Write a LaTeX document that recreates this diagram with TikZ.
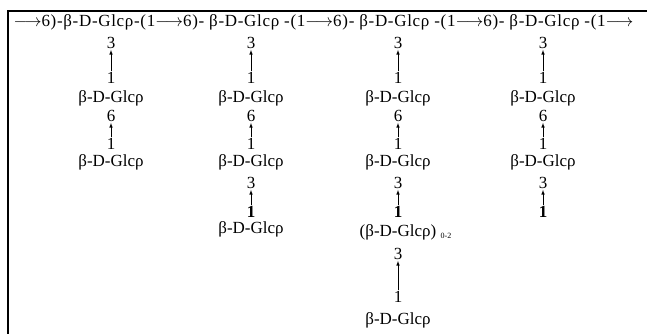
\documentclass[tikz,border=0pt]{standalone}
\usepackage{fontspec}
\setmainfont{Liberation Serif}
\usetikzlibrary{arrows,positioning}
\tikzset{
  lbl/.style={inner sep=0.5pt, font=\fontsize{17}{19}\selectfont},
  lnk/.style={->,>=latex,line width=0.6pt,shorten <=0.5pt,shorten >=0.5pt}
}
\newcommand{\glc}{β-D-Glcρ}
\newcommand{\lto}{$\longrightarrow$}
\begin{document}
\begin{tikzpicture}[x=1pt,y=-1pt]
    \useasboundingbox (0,0) rectangle (647,334);
    \draw[line width=2.5pt] (647,11) -- (8,11) -- (8,334);
    % main chain
    \node[lbl,anchor=west,font=\fontsize{17}{19}\selectfont\addfontfeatures{LetterSpace=4}] (chain) at (13,22) {\lto6)-\glc-(1\lto6)- \glc\ -(1\lto6)- \glc\ -(1\lto6)- \glc\ -(1\lto};
    % column 1
    \node[lbl] (t1) at (111,43) {3};
    \node[lbl] (o1) at (111,78) {1};
    \node[lbl] (r1) at (111,98) {\glc};
    \node[lbl] (s1) at (111,116) {6};
    \node[lbl] (p1) at (111,144) {1};
    \node[lbl] (q1) at (111,162) {\glc};
    \draw[lnk] (o1) -- (t1);
    \draw[lnk] (p1) -- (s1);
    % column 2
    \node[lbl] (t2) at (251,43) {3};
    \node[lbl] (o2) at (251,78) {1};
    \node[lbl] (r2) at (251,98) {\glc};
    \node[lbl] (s2) at (251,116) {6};
    \node[lbl] (p2) at (251,144) {1};
    \node[lbl] (q2) at (251,162) {\glc};
    \node[lbl] (u2) at (251,183) {3};
    \node[lbl] (v2) at (251,212) {\textbf{1}};
    \node[lbl] (w2) at (251,229) {\glc};
    \draw[lnk] (o2) -- (t2);
    \draw[lnk] (p2) -- (s2);
    \draw[lnk] (v2) -- (u2);
    % column 3
    \node[lbl] (t3) at (398,43) {3};
    \node[lbl] (o3) at (398,78) {1};
    \node[lbl] (r3) at (398,98) {\glc};
    \node[lbl] (s3) at (398,116) {6};
    \node[lbl] (p3) at (398,144) {1};
    \node[lbl] (q3) at (398,162) {\glc};
    \node[lbl] (u3) at (398,183) {3};
    \node[lbl] (v3) at (398,212) {\textbf{1}};
    \node[lbl] (w3) at (398,232) {(\glc)};
    \node[lbl,anchor=west,font=\fontsize{8}{9}\selectfont] (n3) at ([xshift=3pt,yshift=-4pt]w3.east) {0-2};
    \node[lbl] (x3) at (398,254) {3};
    \node[lbl] (y3) at (398,297) {1};
    \node[lbl] (z3) at (398,320) {\glc};
    \draw[lnk] (o3) -- (t3);
    \draw[lnk] (p3) -- (s3);
    \draw[lnk] (v3) -- (u3);
    \draw[lnk] (y3) -- (x3);
    % column 4
    \node[lbl] (t4) at (543,43) {3};
    \node[lbl] (o4) at (543,78) {1};
    \node[lbl] (r4) at (543,98) {\glc};
    \node[lbl] (s4) at (543,116) {6};
    \node[lbl] (p4) at (543,144) {1};
    \node[lbl] (q4) at (543,162) {\glc};
    \node[lbl] (u4) at (543,183) {3};
    \node[lbl] (v4) at (543,212) {\textbf{1}};
    \draw[lnk] (o4) -- (t4);
    \draw[lnk] (p4) -- (s4);
    \draw[lnk] (v4) -- (u4);
\end{tikzpicture}
\end{document}
